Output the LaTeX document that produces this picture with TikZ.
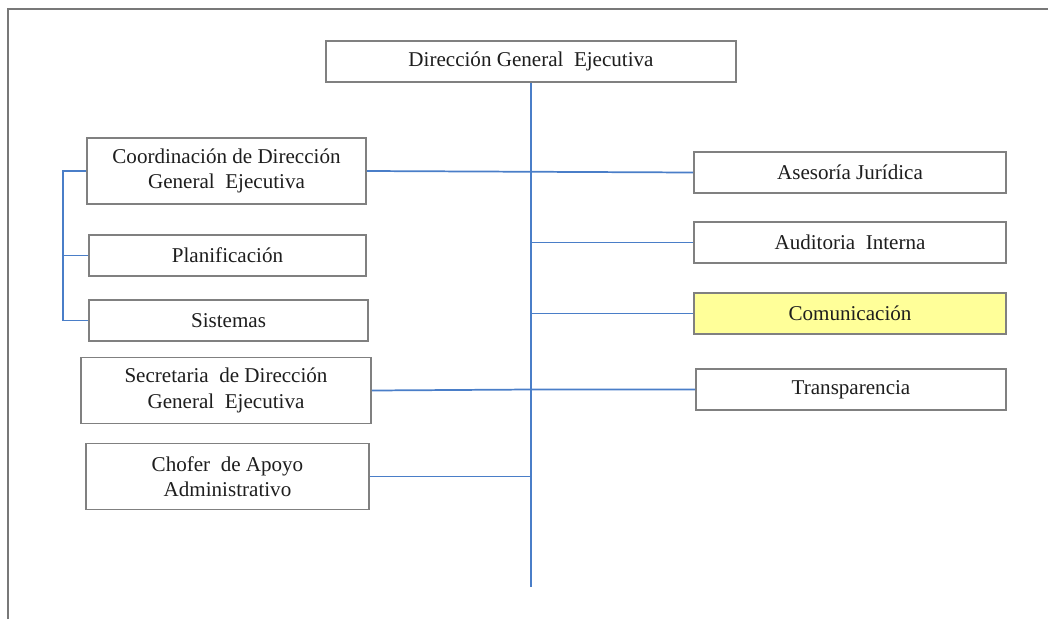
\documentclass[tikz,border=0pt]{standalone}
\usepackage{fontspec}
\setmainfont{Liberation Serif}
\definecolor{linkblue}{RGB}{74,126,200}
\definecolor{boxgray}{RGB}{128,128,128}
\definecolor{framegray}{RGB}{120,120,120}
\definecolor{paleyellow}{RGB}{255,255,153}
\definecolor{txt}{RGB}{30,30,30}
\begin{document}
\begin{tikzpicture}[x=0.75pt,y=-0.75pt,
  unit/.style={draw=boxgray,line width=1.2pt,fill=white,text=txt,align=center,
    inner sep=0pt,font=\fontsize{15.8}{19}\selectfont},
  b1/.style={unit,minimum height=41*0.75pt},
  b2/.style={unit,minimum height=66*0.75pt},
  link/.style={draw=linkblue,line width=1.3pt},
  frame/.style={draw=framegray,line width=1.5pt}]
\useasboundingbox (0,0) rectangle (1048,619);
\draw[frame] (8,619) -- (8,9) -- (1048,9);
% nodes
\node[b1,minimum width=410*0.75pt] (top) at (531,61.5) {Dirección General\ \ Ejecutiva};
\node[b2,minimum width=279*0.75pt] (coord) at (226.5,171) {Coordinación de Dirección\\General\ \ Ejecutiva};
\node[b1,minimum width=277*0.75pt] (plan) at (227.5,255.5) {Planificación};
\node[b1,minimum width=279*0.75pt] (sist) at (228.5,320.5) {Sistemas};
\node[b2,minimum width=290*0.75pt] (secr) at (226,390.5) {Secretaria\ \ de Dirección\\General\ \ Ejecutiva};
\node[b2,minimum width=283*0.75pt] (chof) at (227.5,476.5) {Chofer\ \ de Apoyo\\Administrativo};
\node[b1,minimum width=312*0.75pt] (ases) at (850,172.5) {Asesoría Jurídica};
\node[b1,minimum width=312*0.75pt] (audi) at (850,242.5) {Auditoria\ \ Interna};
\node[b1,minimum width=312*0.75pt,fill=paleyellow] (comu) at (850,313.5) {Comunicación};
\node[b1,minimum width=310*0.75pt] (trans) at (851,389.5) {Transparencia};
% connectors
\coordinate (spineend) at (531,587);
\coordinate (bk) at (63,171);
\draw[link] (top.south) -- (spineend);
\draw[link] (coord.east) -- (ases.west);
\draw[link] (coord.west) -- (bk) |- (sist.west);
\draw[link] (plan.west) -- (plan.west -| bk);
\draw[link] (top.south |- audi.west) -- (audi.west);
\draw[link] (top.south |- comu.west) -- (comu.west);
\draw[link] (secr.east) -- (top.south |- trans.west) -- (trans.west);
\draw[link] (chof.east) -- (top.south |- chof.east);
\end{tikzpicture}
\end{document}
